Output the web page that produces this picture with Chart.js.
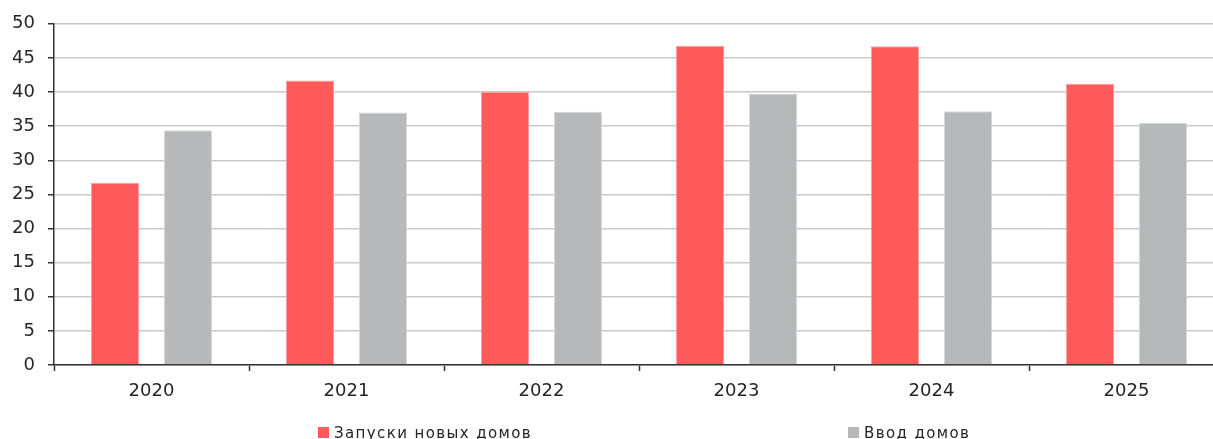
<!DOCTYPE html>
<html>
<head>
<meta charset="utf-8">
<script src="https://cdn.jsdelivr.net/npm/chart.js@4.4.0/dist/chart.umd.min.js"></script>
<style>
  html, body { margin: 0; padding: 0; background: #fff; overflow: hidden; }
  #wrap { position: relative; width: 1232px; height: 439px; }
</style>
</head>
<body>
<div id="wrap"><canvas id="c" width="1232" height="439"></canvas></div>
<script>
// Years on the category axis
const years = ['2020', '2021', '2022', '2023', '2024', '2025'];
// Housing starts and completions per year
const starts = [26.7, 41.7, 40.0, 46.8, 46.7, 41.2];
const completions = [34.4, 37.0, 37.1, 39.8, 37.2, 35.5];
const seriesNames = ['Запуски новых домов', 'Ввод домов'];
// Value axis range and step
const yMin = 0;
const yMax = 50;
const yStep = 5;

const RED = '#ff5a5a';
const RED_EDGE = '#ff9d9d';
const GREY = '#b7b8ba';
const GREY_EDGE = '#d6d7d8';
const INK = '#262626';
const AXIS = '#333333';
const GRID = '#c9c9c9';
const FONT = 'DejaVu Sans';

// Legend drawn along the bottom edge with widely spaced items
const spacedLegend = {
  id: 'spacedLegend',
  afterDraw(chart, args, opts) {
    const ctx = chart.ctx;
    ctx.save();
    ctx.font = opts.font;
    ctx.letterSpacing = opts.letterSpacing;
    ctx.textBaseline = 'alphabetic';
    ctx.textAlign = 'left';
    chart.data.datasets.forEach((ds, i) => {
      const x = opts.positions[i];
      ctx.fillStyle = ds.backgroundColor;
      ctx.fillRect(x, opts.boxTop, opts.box, opts.box);
      ctx.fillStyle = opts.color;
      ctx.fillText(ds.label, x + opts.box + opts.gap, opts.baseline);
    });
    ctx.restore();
  }
};

new Chart(document.getElementById('c'), {
  type: 'bar',
  data: {
    labels: years,
    datasets: [
      {
        label: seriesNames[0],
        data: starts,
        backgroundColor: RED,
        borderColor: RED_EDGE,
        borderWidth: 1,
        borderSkipped: 'start',
        barPercentage: 0.658,
        categoryPercentage: 0.75
      },
      {
        label: seriesNames[1],
        data: completions,
        backgroundColor: GREY,
        borderColor: GREY_EDGE,
        borderWidth: 1,
        borderSkipped: 'start',
        barPercentage: 0.658,
        categoryPercentage: 0.75
      }
    ]
  },
  options: {
    responsive: false,
    animation: false,
    devicePixelRatio: 1,
    layout: { padding: { top: 23, right: 8, left: 0, bottom: 0 } },
    plugins: {
      legend: { display: false },
      tooltip: { enabled: false },
      spacedLegend: {
        positions: [318, 848],
        box: 11,
        boxTop: 427,
        gap: 5,
        baseline: 438,
        font: '15px "' + FONT + '"',
        letterSpacing: '1.4px',
        color: INK
      }
    },
    scales: {
      x: {
        afterFit: (s) => { s.height = 74; },
        grid: {
          display: true,
          drawOnChartArea: false,
          drawTicks: true,
          tickLength: 6,
          tickColor: AXIS,
          tickWidth: 1.5,
          offset: true
        },
        border: { display: true, color: AXIS, width: 1.5 },
        ticks: {
          font: { family: FONT, size: 18 },
          color: INK,
          padding: 10
        }
      },
      y: {
        min: yMin,
        max: yMax,
        afterFit: (s) => { s.width = 54; },
        grid: {
          color: GRID,
          lineWidth: 1.5,
          tickColor: AXIS,
          tickLength: 6,
          tickWidth: 1.5
        },
        border: { display: true, color: AXIS, width: 1.5 },
        ticks: {
          stepSize: yStep,
          font: { family: FONT, size: 18 },
          color: INK,
          padding: 13
        }
      }
    }
  },
  plugins: [spacedLegend]
});
</script>
</body>
</html>
